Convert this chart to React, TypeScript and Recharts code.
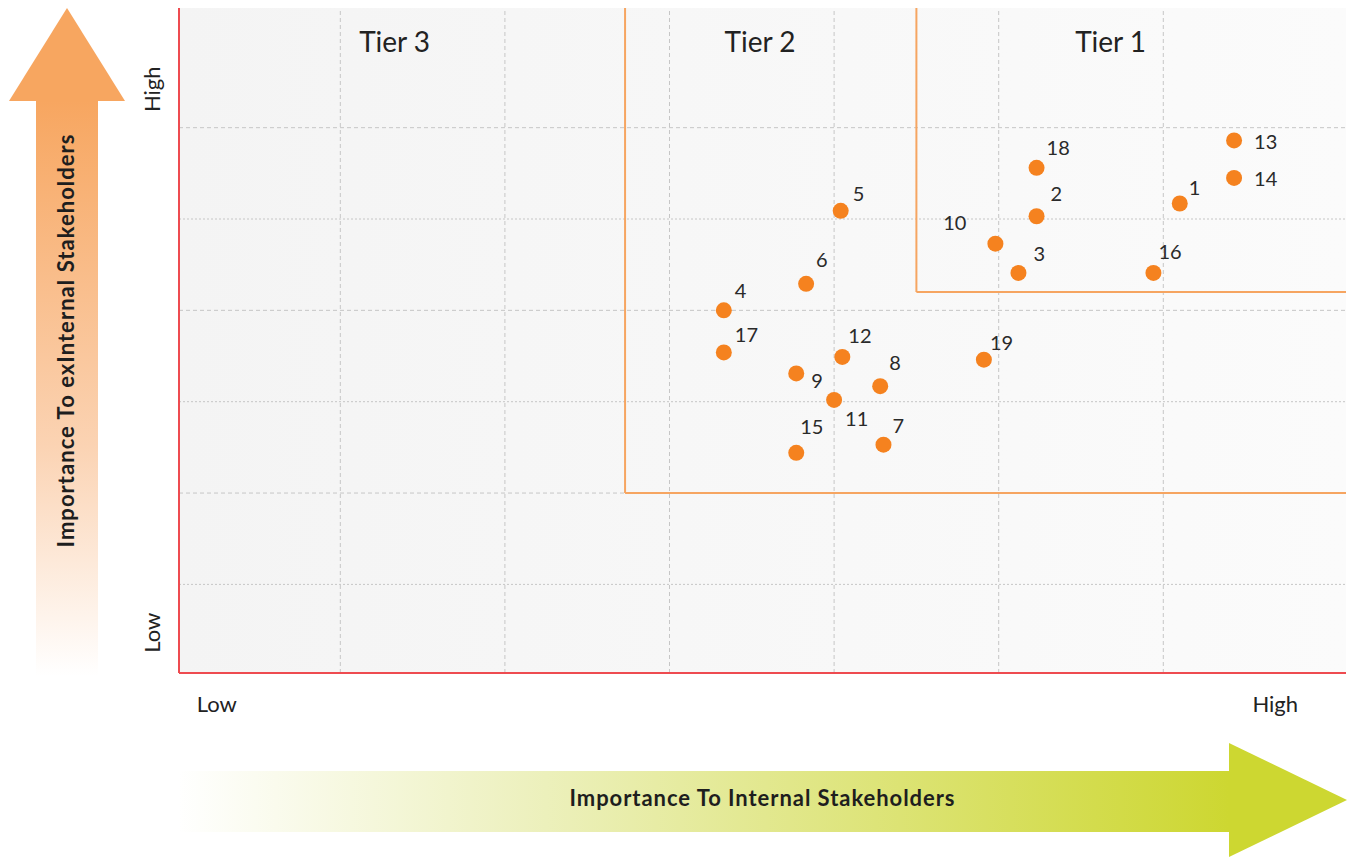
import React from "react";
import {
  CartesianGrid,
  ReferenceLine,
  Scatter,
  ScatterChart,
  XAxis,
  YAxis,
} from "recharts";

// issue number -> importance to internal (x) / external (y) stakeholders
const topicIds = [1, 2, 3, 4, 5, 6, 7, 8, 9, 10, 11, 12, 13, 14, 15, 16, 17, 18, 19];
const internalScores = [6.1, 5.23, 5.12, 3.33, 4.04, 3.83, 4.3, 4.28, 3.77, 4.98, 4.0, 4.05, 6.43, 6.43, 3.77, 5.94, 3.33, 5.23, 4.91];
const externalScores = [5.17, 5.03, 4.41, 4.0, 5.09, 4.29, 2.53, 3.17, 3.31, 4.73, 3.02, 3.49, 5.86, 5.45, 2.44, 4.41, 3.54, 5.56, 3.46];

const gridValues = [1, 2, 3, 4, 5, 6];
const xDomain = [0.02, 7.11];
const yDomain = [0.03, 7.31];

const tierNames = ["Tier 3", "Tier 2", "Tier 1"];
const tierLabelX = [1.33, 3.55, 5.68];
const tierLabelY = 6.83;
// lower-left corner of each tier box (box runs to top/right edges)
const tier2Corner = [2.73, 2.0];
const tier1Corner = [4.5, 4.2];

const xTickValues = [0.25, 6.68];
const xTickLabels = ["Low", "High"];
const yTickValues = [0.47, 6.42];
const yTickLabels = ["Low", "High"];

// label placement next to each dot (px), layout only
const labelOffsets: Record<number, [number, number, string?]> = {
  1: [9, -8],
  2: [14, -15],
  3: [15, -12],
  4: [11, -12],
  5: [12, -10],
  6: [10, -17],
  7: [9, -12],
  8: [9, -16],
  9: [15, 15],
  10: [-29, -14, "end"],
  11: [11, 26],
  12: [6, -14],
  13: [20, 9],
  14: [20, 8],
  15: [4, -19],
  16: [5, -14],
  17: [11, -10],
  18: [10, -13],
  19: [6, -10],
};

const points = topicIds.map((id, i) => ({ id, x: internalScores[i], y: externalScores[i] }));
const tierLabels = tierNames.map((name, i) => ({ name, x: tierLabelX[i], y: tierLabelY }));

const FONT = "Lato, 'Open Sans', sans-serif";
const ORANGE_DOT = "#f5821f";
const TIER_LINE = "#f6a561";
const AXIS_RED = "#ee4b50";

function Dot(props: any) {
  const { cx, cy, payload } = props;
  const [dx, dy, anchor] = labelOffsets[payload.id] || [10, -12];
  return (
    <g>
      <circle cx={cx} cy={cy} r={8} fill={ORANGE_DOT} />
      <text
        x={cx + dx}
        y={cy + dy}
        textAnchor={anchor || "start"}
        fontFamily={FONT}
        fontSize={20}
        fill="#2a2a2a"
      >
        {payload.id}
      </text>
    </g>
  );
}

function TierLabel(props: any) {
  const { cx, cy, payload } = props;
  return (
    <text x={cx} y={cy} textAnchor="middle" fontFamily={FONT} fontSize={28} fill="#222">
      {payload.name}
    </text>
  );
}

function XTick(props: any) {
  const { x, y, payload } = props;
  const i = xTickValues.indexOf(payload.value);
  return (
    <text x={x} y={y + 39} textAnchor="middle" fontFamily={FONT} fontSize={22} fill="#222">
      {xTickLabels[i]}
    </text>
  );
}

function YTick(props: any) {
  const { x, y, payload } = props;
  const i = yTickValues.indexOf(payload.value);
  return (
    <text
      transform={`translate(${x - 19},${y}) rotate(-90)`}
      textAnchor="middle"
      fontFamily={FONT}
      fontSize={22}
      fill="#222"
    >
      {yTickLabels[i]}
    </text>
  );
}

function Arrows() {
  return (
    <svg
      width={1350}
      height={857}
      style={{ position: "absolute", left: 0, top: 0 }}
    >
      <defs>
        <linearGradient id="upArrow" x1="0" y1="0" x2="0" y2="1">
          <stop offset="0%" stopColor="#f7a660" />
          <stop offset="60%" stopColor="#fbd3b3" />
          <stop offset="100%" stopColor="#ffffff" />
        </linearGradient>
        <linearGradient id="rightArrow" x1="0" y1="0" x2="1" y2="0">
          <stop offset="0%" stopColor="#ffffff" />
          <stop offset="35%" stopColor="#ecf0bb" />
          <stop offset="100%" stopColor="#cdd731" />
        </linearGradient>
        <linearGradient id="plotBg" x1="0" y1="0" x2="1" y2="0">
          <stop offset="0%" stopColor="#f4f4f4" />
          <stop offset="100%" stopColor="#fbfbfb" />
        </linearGradient>
      </defs>
      <polygon points="67,8 9,101 125,101" fill="#f7a660" />
      <rect x={36} y={101} width={62} height={575} fill="url(#upArrow)" />
      <text
        transform="translate(74,341) rotate(-90)"
        textAnchor="middle"
        fontFamily={FONT}
        fontWeight={700}
        fontSize={22}
        textLength={413}
        lengthAdjust="spacing"
        fill="#1e1e1e"
      >
        Importance To exInternal Stakeholders
      </text>
      <rect x={178} y={771} width={1052} height={61} fill="url(#rightArrow)" />
      <polygon points="1229,743 1347,800 1229,857" fill="#cdd731" />
      <text
        x={762}
        y={806}
        textAnchor="middle"
        fontFamily={FONT}
        fontWeight={700}
        fontSize={22}
        textLength={385}
        lengthAdjust="spacing"
        fill="#1e1e1e"
      >
        Importance To Internal Stakeholders
      </text>
    </svg>
  );
}

export default function App() {
  return (
    <div style={{ position: "absolute", left: 0, top: 0, width: 1350, height: 857, background: "#fff" }}>
      <Arrows />
      <div style={{ position: "absolute", left: 0, top: 0 }}>
        <ScatterChart
          width={1350}
          height={857}
          margin={{ top: 8, right: 4, left: 119, bottom: 134 }}
        >
          <CartesianGrid
            horizontal={false}
            vertical={false}
            fill="url(#plotBg)"
            stroke="none"
          />
          <XAxis
            type="number"
            dataKey="x"
            domain={xDomain}
            allowDataOverflow
            ticks={xTickValues}
            interval={0}
            height={50}
            tickLine={false}
            tickSize={0}
            tickMargin={0}
            axisLine={{ stroke: AXIS_RED, strokeWidth: 2 }}
            tick={<XTick />}
          />
          <YAxis
            type="number"
            dataKey="y"
            domain={yDomain}
            allowDataOverflow
            ticks={yTickValues}
            interval={0}
            width={60}
            tickLine={false}
            tickSize={0}
            tickMargin={0}
            axisLine={{ stroke: AXIS_RED, strokeWidth: 2 }}
            tick={<YTick />}
          />
          {gridValues.map((v) => (
            <ReferenceLine
              key={`gx${v}`}
              x={v}
              stroke="#c6c6c6"
              strokeDasharray="4 3"
            />
          ))}
          {gridValues.map((v) => (
            <ReferenceLine
              key={`gy${v}`}
              y={v}
              stroke="#c6c6c6"
              strokeDasharray={v % 2 === 0 ? "4 3" : "2 2"}
            />
          ))}
          <ReferenceLine
            segment={[
              { x: tier2Corner[0], y: tier2Corner[1] },
              { x: tier2Corner[0], y: yDomain[1] },
            ]}
            stroke={TIER_LINE}
            strokeWidth={2}
          />
          <ReferenceLine
            segment={[
              { x: tier2Corner[0], y: tier2Corner[1] },
              { x: xDomain[1], y: tier2Corner[1] },
            ]}
            stroke={TIER_LINE}
            strokeWidth={2}
          />
          <ReferenceLine
            segment={[
              { x: tier1Corner[0], y: tier1Corner[1] },
              { x: tier1Corner[0], y: yDomain[1] },
            ]}
            stroke={TIER_LINE}
            strokeWidth={2}
          />
          <ReferenceLine
            segment={[
              { x: tier1Corner[0], y: tier1Corner[1] },
              { x: xDomain[1], y: tier1Corner[1] },
            ]}
            stroke={TIER_LINE}
            strokeWidth={2}
          />
          <Scatter data={tierLabels} shape={<TierLabel />} isAnimationActive={false} />
          <Scatter data={points} shape={<Dot />} isAnimationActive={false} />
        </ScatterChart>
      </div>
    </div>
  );
}
